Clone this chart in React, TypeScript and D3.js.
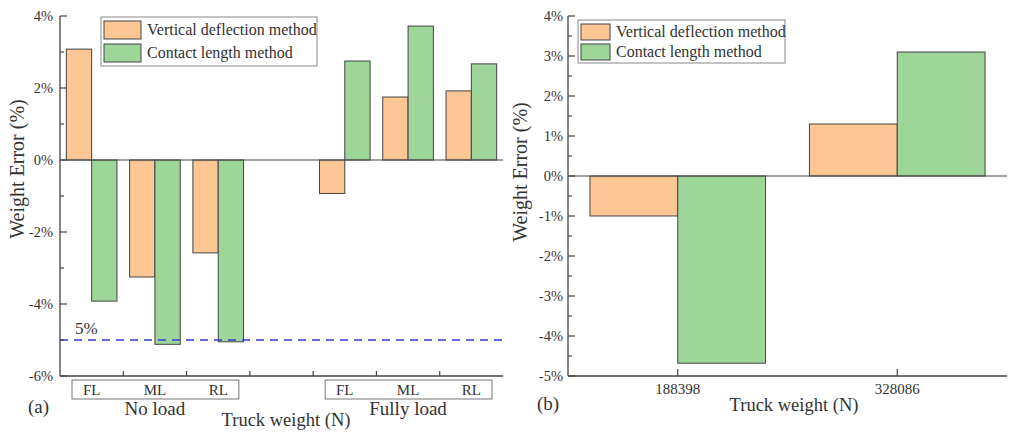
import React from "react";
import * as d3 from "d3";

const seriesNames = ["Vertical deflection method", "Contact length method"];
const colors = ["#FCC795", "#9ED69A"];

const leftCategories = ["NL-FL", "NL-ML", "NL-RL", "gap", "FU-FL", "FU-ML", "FU-RL"];
const leftVertical = [3.08, -3.25, -2.58, null, -0.93, 1.75, 1.92];
const leftContact = [-3.92, -5.12, -5.05, null, 2.75, 3.72, 2.67];
const leftTicks = [4, 2, 0, -2, -4, -6];
const subLabels = ["FL", "ML", "RL"];
const groupLabels = ["No load", "Fully load"];
const thresholdValue = -5;

const rightCategories = ["188398", "328086"];
const rightVertical = [-1.0, 1.3];
const rightContact = [-4.68, 3.1];
const rightTicks = [4, 3, 2, 1, 0, -1, -2, -3, -4, -5];

const FONT = "'Liberation Serif', 'Times New Roman', serif";
const TXT = "#333";
const AX = "#444";

function Legend({ x, y, w, h, sw, sh, gap, fs }: any) {
  return (
    <g>
      <rect x={x} y={y} width={w} height={h} fill="white" stroke="#888" strokeWidth={1} />
      {seriesNames.map((n, i) => (
        <g key={n}>
          <rect x={x + 3} y={y + 4 + i * gap} width={sw} height={sh} fill={colors[i]} stroke={AX} strokeWidth={1} />
          <text x={x + sw + 9} y={y + 4 + i * gap + sh / 2 + 5} fontSize={fs} fill={TXT} fontFamily={FONT}>{n}</text>
        </g>
      ))}
    </g>
  );
}

export default function App() {
  // Left chart
  const lx = d3.scaleBand<string>().domain(leftCategories).range([60, 503]).paddingInner(0).paddingOuter(0);
  const ly = d3.scaleLinear().domain([-6, 4]).range([376, 16]);
  const lsub = d3.scaleBand<number>().domain([0, 1]).range([0, lx.bandwidth()]).paddingOuter(0.25).paddingInner(0);
  const lMinor = d3.range(-5, 4, 2);

  // Right chart
  const rx = d3.scaleBand<string>().domain(rightCategories).range([568, 1007]).padding(0);
  const ry = d3.scaleLinear().domain([-5, 4]).range([376, 16]);
  const rsub = d3.scaleBand<number>().domain([0, 1]).range([0, rx.bandwidth()]).paddingOuter(0.25).paddingInner(0);
  const rMinor = d3.range(-4.5, 4, 1);

  const bar = (x0: number, v: number | null, y: any, w: number, c: string, key: string) =>
    v == null ? null : (
      <rect key={key} x={x0} y={y(Math.max(0, v))} width={w} height={Math.abs(y(v) - y(0))} fill={c} stroke={AX} strokeWidth={1} />
    );

  const bandStart = (i: number) => lx(leftCategories[i]) as number;

  return (
    <svg width={1024} height={441} style={{ position: "absolute", left: 0, top: 0, background: "white" }}>
      {/* ===== Left chart ===== */}
      <g>
        {leftCategories.map((c, i) => (
          <g key={c}>
            {bar((lx(c) as number) + (lsub(0) as number), leftVertical[i], ly, lsub.bandwidth(), colors[0], c + "v")}
            {bar((lx(c) as number) + (lsub(1) as number), leftContact[i], ly, lsub.bandwidth(), colors[1], c + "c")}
          </g>
        ))}
        <line x1={60} x2={503} y1={ly(0)} y2={ly(0)} stroke={AX} strokeWidth={1.2} />
        <line x1={60} x2={503} y1={ly(thresholdValue)} y2={ly(thresholdValue)} stroke="#3a3ad6" strokeWidth={1.5} strokeDasharray="8,6" />
        <text x={75} y={ly(thresholdValue) - 6} fontSize={17} fill={TXT} fontFamily={FONT}>5%</text>
        {/* axes */}
        <line x1={60} x2={60} y1={16} y2={376} stroke={AX} strokeWidth={1.3} />
        <line x1={60} x2={503} y1={376} y2={376} stroke={AX} strokeWidth={1.3} />
        {leftTicks.map((t) => (
          <g key={t}>
            <line x1={60} x2={67} y1={ly(t)} y2={ly(t)} stroke={AX} strokeWidth={1.2} />
            <text x={53} y={ly(t) + 5} fontSize={14.5} textAnchor="end" fill={TXT} fontFamily={FONT}>{t}%</text>
          </g>
        ))}
        {lMinor.map((t) => (
          <line key={t} x1={60} x2={64} y1={ly(t)} y2={ly(t)} stroke={AX} strokeWidth={1.2} />
        ))}
        {leftCategories.slice(1).map((c) => (
          <line key={c} x1={lx(c)} x2={lx(c)} y1={376} y2={371} stroke={AX} strokeWidth={1.2} />
        ))}
        {/* category label boxes */}
        {[0, 4].map((start, gi) => {
          const x0 = bandStart(start) + 12;
          const x1 = bandStart(start + 2) + lx.bandwidth() - 11;
          const cx = bandStart(start + 1) + lx.bandwidth() / 2;
          return (
            <g key={gi}>
              <rect x={x0} y={380} width={x1 - x0} height={19} fill="none" stroke="#777" strokeWidth={1} />
              {subLabels.map((s, k) => (
                <text key={s} x={bandStart(start + k) + lx.bandwidth() / 2} y={395} fontSize={15} textAnchor="middle" fill={TXT} fontFamily={FONT}>{s}</text>
              ))}
              <text x={cx} y={415} fontSize={19} textAnchor="middle" fill={TXT} fontFamily={FONT}>{groupLabels[gi]}</text>
            </g>
          );
        })}
        <text x={286} y={426} fontSize={18.5} textAnchor="middle" fill={TXT} fontFamily={FONT}>Truck weight (N)</text>
        <text x={28} y={413} fontSize={19} fill={TXT} fontFamily={FONT}>(a)</text>
        <text transform="translate(24,169) rotate(-90)" fontSize={20} textAnchor="middle" fill={TXT} fontFamily={FONT}>Weight Error (%)</text>
        <Legend x={101} y={17} w={216} h={49} sw={37} sh={18} gap={23} fs={16} />
      </g>

      {/* ===== Right chart ===== */}
      <g>
        {rightCategories.map((c, i) => (
          <g key={c}>
            {bar((rx(c) as number) + (rsub(0) as number), rightVertical[i], ry, rsub.bandwidth(), colors[0], c + "v")}
            {bar((rx(c) as number) + (rsub(1) as number), rightContact[i], ry, rsub.bandwidth(), colors[1], c + "c")}
          </g>
        ))}
        <line x1={568} x2={1007} y1={ry(0)} y2={ry(0)} stroke={AX} strokeWidth={1.2} />
        <line x1={568} x2={568} y1={16} y2={376} stroke={AX} strokeWidth={1.3} />
        <line x1={568} x2={1007} y1={376} y2={376} stroke={AX} strokeWidth={1.3} />
        {rightTicks.map((t) => (
          <g key={t}>
            <line x1={568} x2={575} y1={ry(t)} y2={ry(t)} stroke={AX} strokeWidth={1.2} />
            <text x={563} y={ry(t) + 5} fontSize={14.5} textAnchor="end" fill={TXT} fontFamily={FONT}>{t}%</text>
          </g>
        ))}
        {rMinor.map((t) => (
          <line key={t} x1={568} x2={572} y1={ry(t)} y2={ry(t)} stroke={AX} strokeWidth={1.2} />
        ))}
        {rightCategories.map((c) => {
          const cx = (rx(c) as number) + rx.bandwidth() / 2;
          return (
            <g key={c}>
              <line x1={cx} x2={cx} y1={376} y2={369} stroke={AX} strokeWidth={1.2} />
              <text x={cx} y={394} fontSize={15} textAnchor="middle" fill={TXT} fontFamily={FONT}>{c}</text>
            </g>
          );
        })}
        <text x={794} y={411} fontSize={18.5} textAnchor="middle" fill={TXT} fontFamily={FONT}>Truck weight (N)</text>
        <text x={537} y={410} fontSize={19} fill={TXT} fontFamily={FONT}>(b)</text>
        <text transform="translate(527,172) rotate(-90)" fontSize={20} textAnchor="middle" fill={TXT} fontFamily={FONT}>Weight Error (%)</text>
        <Legend x={578} y={20} w={207} h={43} sw={29} sh={16} gap={20} fs={16} />
      </g>
    </svg>
  );
}
